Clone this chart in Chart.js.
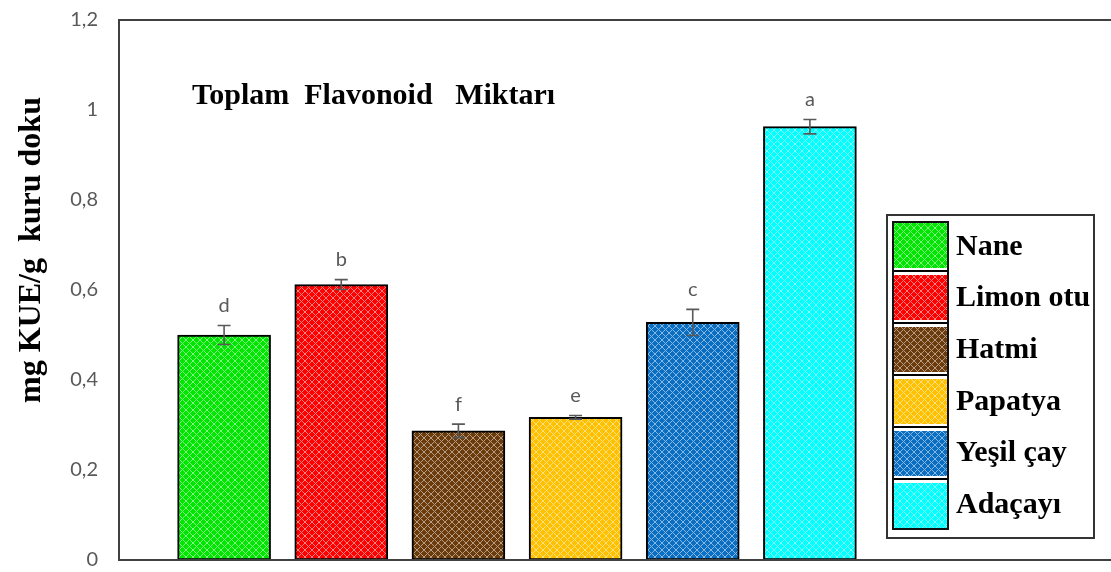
<!DOCTYPE html>
<html>
<head>
<meta charset="utf-8">
<script src="https://cdn.jsdelivr.net/npm/chart.js@4.4.1/dist/chart.umd.min.js"></script>
<style>
html,body{margin:0;padding:0;background:#fff;}
#wrap{width:1111px;height:572px;position:relative;}
</style>
</head>
<body>
<div id="wrap"><canvas id="c" width="1111" height="572"></canvas></div>
<script>
// ---- data ----
const categories = ['Nane', 'Limon otu', 'Hatmi', 'Papatya', 'Yeşil çay', 'Adaçayı'];
const values = [0.500, 0.612, 0.287, 0.317, 0.528, 0.963];
const errors = [0.021, 0.011, 0.015, 0.004, 0.029, 0.016];
const letters = ['d', 'b', 'f', 'e', 'c', 'a'];
const colors = ['#00e600', '#ff0000', '#6b3b0b', '#ffc000', '#0a6fc2', '#00ffff'];
const yTickLabels = ['0', '0,2', '0,4', '0,6', '0,8', '1', '1,2'];
const chartTitle = 'Toplam  Flavonoid   Miktarı';
const yTitle = 'mg KUE/g  kuru doku';

function makePattern(color) {
  const p = 7;
  const t = document.createElement('canvas');
  t.width = p; t.height = p;
  const g = t.getContext('2d');
  g.fillStyle = color;
  g.fillRect(0, 0, p, p);
  g.fillStyle = 'rgba(255,255,255,0.5)';
  for (let x = 0; x < p; x++) {
    for (let y = 0; y < p; y++) {
      if ((x + y) % p === 0 || (x - y + p) % p === 0) g.fillRect(x, y, 1, 1);
    }
  }
  return document.getElementById('c').getContext('2d').createPattern(t, 'repeat');
}
const patterns = colors.map(makePattern);

const decor = {
  id: 'decor',
  afterDatasetsDraw(chart) {
    const ctx = chart.ctx;
    const xs = chart.scales.x, ys = chart.scales.y;
    const a = chart.chartArea;
    ctx.save();
    // plot frame
    ctx.strokeStyle = '#404040';
    ctx.lineWidth = 2;
    ctx.strokeRect(a.left, a.top, a.right - a.left + 20, a.bottom - a.top);
    // error bars and letters
    ctx.strokeStyle = '#595959';
    ctx.lineWidth = 1.6;
    categories.forEach((c, i) => {
      const x = xs.getPixelForValue(i + 1);
      const yt = ys.getPixelForValue(values[i] + errors[i]);
      const yb = ys.getPixelForValue(values[i] - errors[i]);
      ctx.beginPath();
      ctx.moveTo(x, yt); ctx.lineTo(x, yb);
      ctx.moveTo(x - 6.5, yt); ctx.lineTo(x + 6.5, yt);
      ctx.moveTo(x - 6.5, yb); ctx.lineTo(x + 6.5, yb);
      ctx.stroke();
      ctx.fillStyle = '#595959';
      ctx.font = '20px Lato';
      ctx.textAlign = 'center';
      ctx.textBaseline = 'middle';
      ctx.fillText(letters[i], x, yt - 20);
    });
    // chart title
    ctx.fillStyle = '#000';
    ctx.font = 'bold 30px "Liberation Serif"';
    ctx.textAlign = 'left';
    ctx.textBaseline = 'alphabetic';
    ctx.fillText(chartTitle, 192, 104);
    // y axis title
    ctx.save();
    ctx.translate(40, 250);
    ctx.rotate(-Math.PI / 2);
    ctx.font = 'bold 32px "Liberation Serif"';
    ctx.textAlign = 'center';
    ctx.textBaseline = 'alphabetic';
    ctx.fillText(yTitle, 0, 0);
    ctx.restore();
    // legend
    const lx = 887, ly = 215, lw = 207, lh = 323;
    ctx.fillStyle = '#fff';
    ctx.fillRect(lx, ly, lw, lh);
    ctx.strokeStyle = '#333';
    ctx.lineWidth = 2;
    ctx.strokeRect(lx, ly, lw, lh);
    const sx = 894, sw = 53, sy = 223, pitch = 52;
    categories.forEach((c, i) => {
      const y0 = sy + i * pitch;
      ctx.fillStyle = patterns[i];
      ctx.fillRect(sx, y0, sw, 45);
      if (i < categories.length - 1) {
        ctx.fillStyle = '#000';
        ctx.fillRect(sx, y0 + 47, sw, 2);
      }
      ctx.fillStyle = '#000';
      ctx.font = 'bold 30px "Liberation Serif"';
      ctx.textAlign = 'left';
      ctx.textBaseline = 'middle';
      ctx.fillText(c, 956, 247 + i * 51.6);
    });
    ctx.strokeStyle = '#111';
    ctx.lineWidth = 2;
    ctx.strokeRect(sx - 1, sy - 1, sw + 2, (categories.length - 1) * pitch + 47);
    ctx.restore();
  }
};

new Chart(document.getElementById('c'), {
  type: 'bar',
  data: {
    datasets: [{
      data: categories.map((c, i) => ({ x: i + 1, y: values[i] })),
      backgroundColor: patterns,
      borderColor: '#000',
      borderWidth: 2,
      borderSkipped: false,
      barThickness: 93
    }]
  },
  options: {
    responsive: false,
    animation: false,
    devicePixelRatio: 1,
    layout: { padding: { top: 20, bottom: 10.5, left: 0, right: 0 } },
    plugins: { legend: { display: false }, tooltip: { enabled: false }, title: { display: false } },
    scales: {
      x: { type: 'linear', min: 0.103, max: 8.57, display: false, offset: false },
      y: {
        min: 0, max: 1.2,
        ticks: {
          stepSize: 0.2,
          padding: 0,
          color: '#595959',
          font: { family: 'Lato', size: 20 },
          callback: (v, i) => yTickLabels[i]
        },
        grid: { display: false, drawTicks: true, tickLength: 21 },
        border: { display: false },
        afterFit(s) { s.width = 119; }
      }
    }
  },
  plugins: [decor]
});
</script>
</body>
</html>
